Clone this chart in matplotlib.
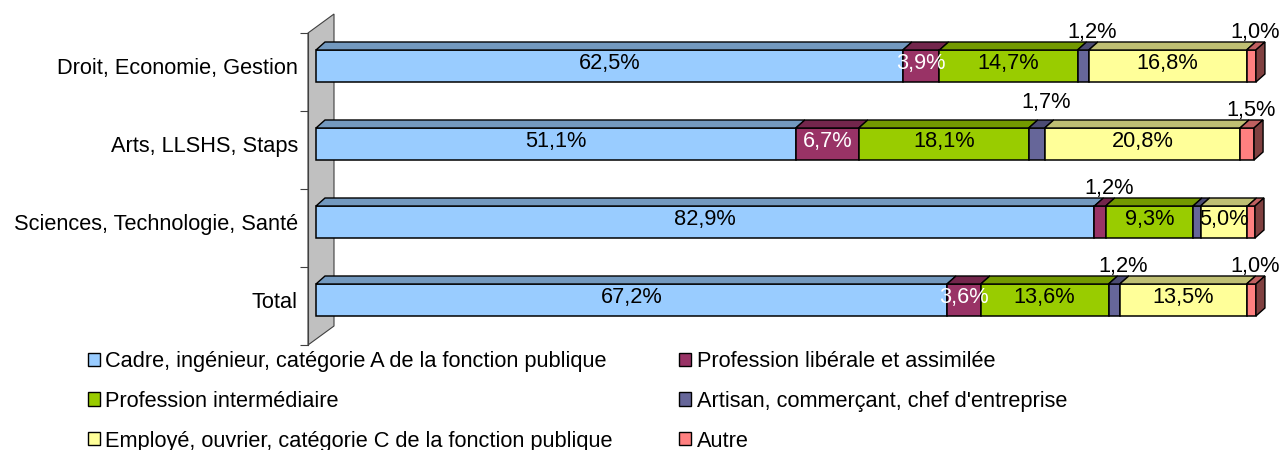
import matplotlib
matplotlib.use('Agg')
import matplotlib.pyplot as plt
from matplotlib.patches import Polygon, Patch

plt.rcParams['font.family'] = ['Liberation Sans', 'DejaVu Sans']

categories = ['Droit, Economie, Gestion', 'Arts, LLSHS, Staps',
              'Sciences, Technologie, Santé', 'Total']
series = ['Cadre, ingénieur, catégorie A de la fonction publique',
          'Profession libérale et assimilée',
          'Profession intermédiaire',
          'Artisan, commerçant, chef d\'entreprise',
          'Employé, ouvrier, catégorie C de la fonction publique',
          'Autre']
# one list per series, one value per category
cadre = [62.5, 51.1, 82.9, 67.2]
liberale = [3.9, 6.7, 1.2, 3.6]
intermediaire = [14.7, 18.1, 9.3, 13.6]
artisan = [1.2, 1.7, 0.8, 1.2]
employe = [16.8, 20.8, 5.0, 13.5]
autre = [1.0, 1.5, 0.8, 1.0]
values = [cadre, liberale, intermediaire, artisan, employe, autre]
# labels not printed in the source chart (series index, category index)
hidden = [(3, 2), (5, 2)]

front_colors = ['#99CCFF', '#993366', '#99CC00', '#666699', '#FFFF99', '#FF8080']
top_colors = ['#7399BF', '#73264C', '#739900', '#4C4C73', '#BFBF73', '#BF6060']
side_color = '#804040'
label_colors = ['black', 'white', 'black', 'black', 'black', 'black']

W, H = 1281, 450
fig = plt.figure(figsize=(W / 100, H / 100), dpi=100)
# axes: left edge on the wall front, top at figure top
ax = fig.add_axes([308 / W, 100 / H, (W - 308) / W, 350 / H])
px_per_pct = 9.39
px_per_cat = 78.0
ax.set_xlim(-8 / px_per_pct, 100 + 26 / px_per_pct)
ax.set_ylim((350 - 66) / px_per_cat, -66 / px_per_cat)

bar_h = 32 / px_per_cat
dx = 9 / px_per_pct          # depth offset in x (percent units)
dy = 8 / px_per_cat          # depth offset in y (category units)
fs = 15.7
ypos = list(range(len(categories)))

# side wall (gray) along the category axis
wall_shift = 6 / px_per_cat
wall_top = -0.5 + wall_shift
wall_bot = len(categories) - 0.5 + wall_shift
wx0 = -8 / px_per_pct
wdx = 26 / px_per_pct
wdy = 19 / px_per_cat
ax.add_patch(Polygon([(wx0, wall_top), (wx0 + wdx, wall_top - wdy),
                      (wx0 + wdx, wall_bot - wdy), (wx0, wall_bot)],
                     closed=True, facecolor='#C0C0C0', edgecolor='#404040',
                     linewidth=0.8, zorder=1, clip_on=False))

lefts = [0.0] * len(categories)
for s, vals in enumerate(values):
    ax.barh(ypos, vals, left=lefts, height=bar_h, color=front_colors[s],
            edgecolor='black', linewidth=1.1, zorder=3)
    for i, v in enumerate(vals):
        l = lefts[i]
        r = l + v
        top = i - bar_h / 2
        ax.add_patch(Polygon([(l, top), (l + dx, top - dy), (r + dx, top - dy), (r, top)],
                             closed=True, facecolor=top_colors[s], edgecolor='black',
                             linewidth=1.0, zorder=3))
        if (s, i) in hidden:
            continue
        txt = f'{v:.1f}'.replace('.', ',') + '%'
        if v < 2:
            yoff = 0.53 if (s, i) == (3, 1) else 0.43
            xoff = dx * 0.45 if s == 5 else dx
            ax.text(l + v / 2 + xoff, i - yoff, txt, ha='center', va='center',
                    fontsize=fs, color='black', zorder=5)
        else:
            ax.text(l + v / 2, i - 0.03, txt, ha='center', va='center',
                    fontsize=fs, color=label_colors[s], zorder=5)
    lefts = [a + b for a, b in zip(lefts, vals)]

# right side face of each stacked bar
for i, r in enumerate(lefts):
    top = i - bar_h / 2
    bot = i + bar_h / 2
    ax.add_patch(Polygon([(r, top), (r + dx, top - dy), (r + dx, bot - dy), (r, bot)],
                         closed=True, facecolor=side_color, edgecolor='black',
                         linewidth=1.0, zorder=3))

# axis styling
for sp in ['top', 'right', 'bottom']:
    ax.spines[sp].set_visible(False)
ax.spines['left'].set_bounds(wall_top, wall_bot)
ax.spines['left'].set_color('#404040')
ax.set_xticks([])
ax.set_yticks(ypos)
ax.set_yticklabels(categories, fontsize=fs)
ax.tick_params(axis='y', which='major', length=0, pad=7.2)
ax.set_yticks([k - 0.5 + wall_shift for k in range(len(categories) + 1)], minor=True)
ax.tick_params(axis='y', which='minor', length=5.8, width=0.8, color='#404040')
ax.patch.set_alpha(0)

# legend: filled column-wise
order = [0, 2, 4, 1, 3, 5]
handles = [Patch(facecolor=front_colors[k], edgecolor='black', linewidth=1.0) for k in order]
labels = [series[k] for k in order]
fig.legend(handles, labels, ncol=2, loc='upper left',
           bbox_to_anchor=(88 / W, 1 - 351 / H), frameon=False, fontsize=fs,
           handlelength=0.55, handleheight=0.55, handletextpad=0.25,
           columnspacing=3.05, labelspacing=0.86, borderpad=0, borderaxespad=0)

fig.savefig('out.png', dpi=100)
